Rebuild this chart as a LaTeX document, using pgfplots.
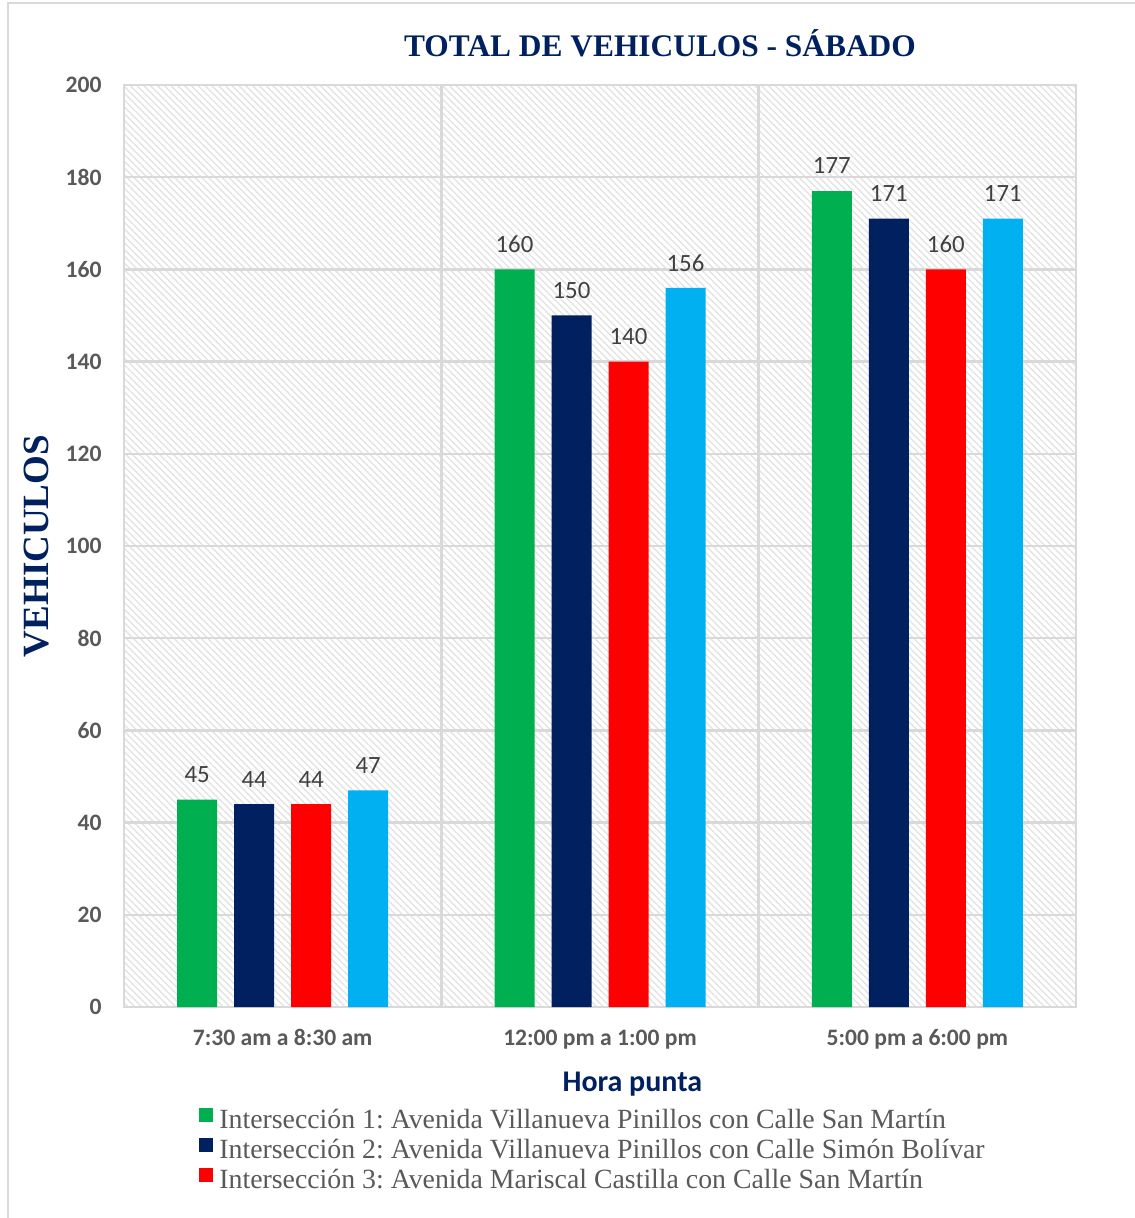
\documentclass[border=0pt]{standalone}
\usepackage{pgfplots}
\pgfplotsset{compat=1.18}
\usetikzlibrary{patterns.meta}
\usepackage{fontspec}
\setmainfont{Liberation Serif}
\newfontfamily\calfont{Carlito}
\frenchspacing
\definecolor{cgreen}{HTML}{00B050}
\definecolor{cnavy}{HTML}{002060}
\definecolor{cred}{HTML}{FF0000}
\definecolor{cblue}{HTML}{00B0F0}
\definecolor{tgray}{HTML}{595959}
\definecolor{lgray}{HTML}{404040}
\definecolor{gridc}{HTML}{D9D9D9}
\begin{document}
\begin{tikzpicture}
\path[use as bounding box] (-62pt,-105.5pt) rectangle (505pt,503.5pt);
\draw[gridc, line width=1.3pt] (-58pt,-106pt) -- (-58pt,502pt) -- (506pt,502pt);
\begin{axis}[
  at={(0pt,0pt)}, anchor=south west,
  scale only axis, width=476pt, height=461pt,
  xmin=-0.5, xmax=2.5, ymin=0, ymax=200,
  ybar=8.5pt, bar width=20pt,
  /pgf/number format/assume math mode=true,
  xtick={0,1,2},
  xticklabels={7:30 am a 8:30 am, 12:00 pm a 1:00 pm, 5:00 pm a 6:00 pm},
  minor xtick={0.5,1.5},
  ytick={0,20,...,200},
  xminorgrids, ymajorgrids,
  major grid style={draw=gridc, line width=1.2pt},
  minor grid style={draw=gridc, line width=1.2pt},
  major tick length=0pt, minor tick length=0pt,
  tick style={draw=none},
  axis line style={draw=gridc, line width=1.2pt},
  axis background/.style={pattern={Lines[angle=-45,distance=2.4pt,line width=0.7pt]}, pattern color=black!11},
  ticklabel style={font=\calfont\bfseries\fontsize{11.8}{13}\selectfont, text=tgray},
  yticklabel style={anchor=east, xshift=-7.7pt},
  xticklabel style={anchor=base, yshift=-19pt},
  title={TOTAL DE VEHICULOS - SÁBADO},
  title style={font=\bfseries\fontsize{15.7}{18}\selectfont, text=cnavy, at={(axis description cs:0.563,1.0325)}, anchor=center},
  ylabel={VEHICULOS},
  ylabel style={font=\bfseries\fontsize{18.5}{20}\selectfont, text=cnavy, at={(axis description cs:-0.0914,0.5)}, anchor=center, rotate=0},
  xlabel={Hora punta},
  xlabel style={font=\calfont\bfseries\fontsize{15}{17}\selectfont, text=cnavy, at={(axis description cs:0.534,-0.0836)}, anchor=center},
  nodes near coords,
  every node near coord/.append style={font=\calfont\fontsize{12.4}{13}\selectfont, text=lgray, anchor=center, yshift=12.5pt},
  legend style={at={(axis description cs:0.0788,-0.1085)}, anchor=north west, draw=none, fill=none, inner sep=0pt,
    font=\fontsize{13.9}{15}\selectfont, text=tgray, column sep=3pt,
    nodes={inner sep=0pt, text height=10.5pt, text depth=4.5pt}},
  legend cell align=left,
  legend image code/.code={\fill[#1] (0pt,0.4pt) rectangle (7pt,7.4pt);},
]
\addplot[fill=cgreen, draw=none] coordinates {(0,45) (1,160) (2,177)};
\addplot[fill=cnavy, draw=none] coordinates {(0,44) (1,150) (2,171)};
\addplot[fill=cred, draw=none] coordinates {(0,44) (1,140) (2,160)};
\addplot[fill=cblue, draw=none] coordinates {(0,47) (1,156) (2,171)};
\legend{Intersección 1: Avenida Villanueva Pinillos con Calle San Martín,
Intersección 2: Avenida Villanueva Pinillos con Calle Simón Bolívar,
Intersección 3: Avenida Mariscal Castilla con Calle San Martín}
\end{axis}
\end{tikzpicture}
\end{document}
